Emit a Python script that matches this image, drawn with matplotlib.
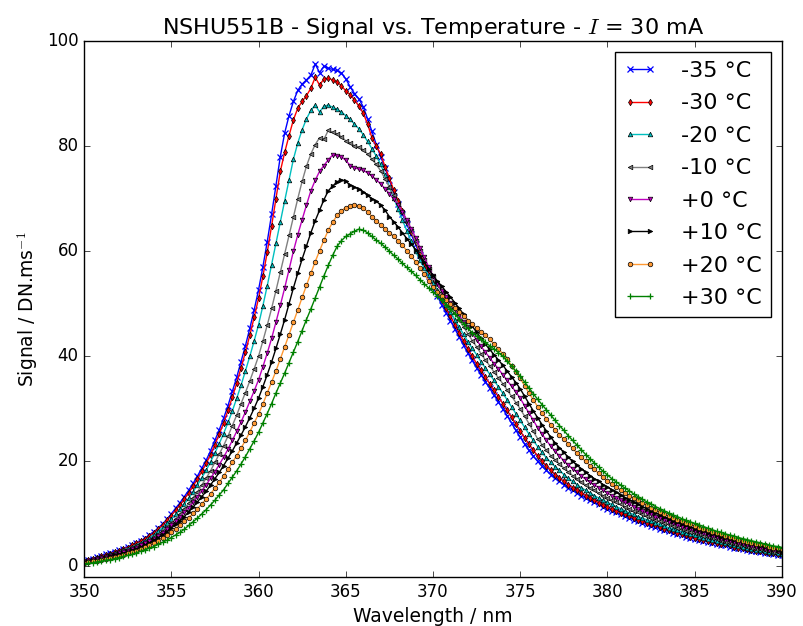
"""
NSHU551B: espectro de emision a I = 30 mA para distintas temperaturas.
Genera out.png.
"""

import numpy as np
import matplotlib
matplotlib.use("Agg")
import matplotlib.pyplot as plt

# rejilla de muestreo del espectrometro (nm)
wavelength = np.arange(350.0, 390.01, 0.25)

labels = ["-35 °C", "-30 °C", "-20 °C", "-10 °C", "+0 °C", "+10 °C", "+20 °C", "+30 °C"]

# senal DN/ms, una fila de 4 valores por nm (x.00, x.25, x.50, x.75), ultimo valor = 390 nm
sig_m35 = [
    1.1, 1.3, 1.5, 1.8,  2.0, 2.3, 2.5, 2.8,  3.1, 3.4, 3.7, 4.1,  4.5, 4.9, 5.4, 6.0,
    6.6, 7.3, 8.1, 9.0,  10.0, 11.1, 12.1, 13.3,  14.5, 15.8, 17.2, 18.7,  20.2, 22.0, 24.0, 26.0,
    28.2, 30.6, 33.3, 36.0,  39.0, 42.0, 45.3, 48.8,  52.6, 57.0, 61.8, 67.0,  72.5, 78.0, 82.5, 85.8,
    88.5, 90.6, 91.8, 92.6,  93.5, 95.6, 94.0, 95.2,  94.8, 94.6, 94.4, 93.9,  92.8, 91.3, 90.0, 89.0,
    87.5, 85.2, 82.8, 80.3,  78.0, 75.8, 73.5, 71.2,  69.0, 67.0, 65.1, 63.2,  61.3, 59.3, 57.2, 55.2,
    53.2, 51.5, 49.8, 48.3,  46.8, 45.2, 43.7, 42.1,  40.6, 39.2, 37.8, 36.5,  35.2, 33.9, 32.6, 31.3,
    30.0, 28.7, 27.3, 25.9,  24.6, 23.3, 22.1, 21.0,  20.0, 19.1, 18.3, 17.5,  16.8, 16.2, 15.6, 15.0,
    14.5, 14.0, 13.5, 13.0,  12.6, 12.2, 11.8, 11.4,  11.0, 10.6, 10.3, 9.9,  9.6, 9.3, 8.9, 8.6,
    8.3, 8.0, 7.7, 7.5,  7.2, 6.9, 6.7, 6.4,  6.2, 6.0, 5.7, 5.5,  5.3, 5.1, 4.9, 4.7,
    4.5, 4.3, 4.1, 4.0,  3.8, 3.6, 3.5, 3.3,  3.2, 3.0, 2.9, 2.7,  2.6, 2.5, 2.3, 2.2,
    2.1,
]
sig_m30 = [
    1.0, 1.2, 1.4, 1.7,  1.9, 2.2, 2.4, 2.7,  3.0, 3.3, 3.6, 4.0,  4.4, 4.8, 5.3, 5.8,
    6.4, 7.1, 7.9, 8.8,  9.7, 10.7, 11.7, 12.8,  14.0, 15.3, 16.6, 18.1,  19.6, 21.3, 23.2, 25.2,
    27.3, 29.7, 32.2, 34.9,  37.8, 40.8, 44.0, 47.4,  51.0, 55.2, 59.8, 64.8,  70.0, 75.2, 78.8, 82.0,
    85.0, 87.2, 88.5, 89.6,  91.0, 93.1, 91.6, 92.8,  92.9, 92.6, 92.2, 91.5,  90.5, 89.8, 88.8, 87.6,
    86.3, 84.2, 81.6, 80.0,  78.5, 76.1, 73.9, 71.6,  69.6, 67.6, 65.6, 63.7,  61.8, 59.7, 57.8, 55.9,
    54.0, 52.3, 50.7, 49.1,  47.6, 46.0, 44.5, 42.9,  41.4, 40.0, 38.6, 37.3,  36.0, 34.8, 33.5, 32.3,
    31.0, 29.7, 28.4, 27.1,  25.8, 24.5, 23.3, 22.1,  21.0, 20.0, 19.1, 18.3,  17.5, 16.8, 16.2, 15.6,
    15.0, 14.5, 14.0, 13.5,  13.0, 12.6, 12.1, 11.7,  11.3, 10.9, 10.6, 10.2,  9.9, 9.6, 9.2, 8.9,
    8.6, 8.3, 8.0, 7.8,  7.5, 7.2, 6.9, 6.7,  6.4, 6.2, 5.9, 5.7,  5.5, 5.3, 5.1, 4.9,
    4.7, 4.5, 4.3, 4.2,  4.0, 3.8, 3.6, 3.5,  3.3, 3.2, 3.0, 2.9,  2.8, 2.6, 2.5, 2.4,
    2.3,
]
sig_m20 = [
    0.9, 1.1, 1.3, 1.6,  1.8, 2.0, 2.3, 2.5,  2.8, 3.1, 3.4, 3.7,  4.1, 4.5, 4.9, 5.4,
    6.0, 6.7, 7.4, 8.2,  9.0, 9.9, 10.9, 11.9,  13.0, 14.2, 15.5, 16.9,  18.3, 19.9, 21.6, 23.4,
    25.3, 27.4, 29.6, 32.0,  34.5, 37.2, 40.0, 42.9,  46.0, 49.6, 53.4, 57.4,  61.5, 65.6, 69.6, 73.6,
    77.5, 80.6, 83.1, 85.2,  86.8, 87.8, 86.5, 87.6,  87.8, 87.4, 87.0, 86.5,  85.8, 85.1, 84.2, 83.3,
    82.2, 80.9, 79.5, 78.1,  76.5, 74.5, 72.3, 70.1,  68.0, 65.9, 63.9, 61.9,  60.0, 58.3, 56.8, 55.4,
    54.0, 52.6, 51.2, 49.8,  48.5, 47.0, 45.6, 44.2,  42.8, 41.5, 40.3, 39.0,  37.8, 36.6, 35.4, 34.2,
    33.0, 31.7, 30.4, 29.1,  27.8, 26.5, 25.2, 24.0,  22.8, 21.7, 20.7, 19.8,  19.0, 18.3, 17.5, 16.8,
    16.2, 15.6, 15.0, 14.5,  14.0, 13.5, 13.0, 12.6,  12.2, 11.8, 11.4, 11.0,  10.6, 10.2, 9.9, 9.5,
    9.2, 8.9, 8.6, 8.3,  8.0, 7.7, 7.4, 7.2,  6.9, 6.6, 6.4, 6.1,  5.9, 5.7, 5.4, 5.2,
    5.0, 4.8, 4.6, 4.4,  4.2, 4.0, 3.9, 3.7,  3.5, 3.4, 3.2, 3.1,  2.9, 2.8, 2.7, 2.5,
    2.4,
]
sig_m10 = [
    0.9, 1.1, 1.3, 1.5,  1.7, 1.9, 2.1, 2.4,  2.6, 2.9, 3.2, 3.5,  3.9, 4.2, 4.6, 5.1,
    5.6, 6.2, 6.8, 7.5,  8.3, 9.1, 10.0, 11.0,  12.0, 13.1, 14.2, 15.5,  16.8, 18.2, 19.8, 21.4,
    23.0, 24.8, 26.8, 28.8,  31.0, 33.1, 35.3, 37.6,  40.0, 42.9, 45.9, 49.1,  52.5, 56.0, 59.5, 63.0,
    66.5, 70.0, 73.3, 76.2,  78.5, 80.3, 81.6, 81.3,  83.0, 82.6, 82.3, 81.8,  81.0, 80.5, 80.1, 79.8,
    79.3, 78.5, 77.5, 76.5,  75.3, 73.8, 72.2, 70.6,  69.0, 67.3, 65.5, 63.8,  62.0, 60.1, 58.3, 56.6,
    55.0, 53.6, 52.2, 50.8,  49.5, 48.2, 46.9, 45.6,  44.3, 43.0, 41.8, 40.5,  39.3, 38.2, 37.0, 35.9,
    34.8, 33.6, 32.4, 31.2,  30.0, 28.6, 27.2, 25.7,  24.3, 23.2, 22.1, 21.1,  20.3, 19.5, 18.7, 18.0,
    17.3, 16.7, 16.1, 15.5,  15.0, 14.5, 14.0, 13.5,  13.1, 12.6, 12.2, 11.8,  11.4, 11.0, 10.6, 10.3,
    9.9, 9.6, 9.2, 8.9,  8.6, 8.3, 8.0, 7.7,  7.4, 7.1, 6.8, 6.6,  6.3, 6.1, 5.8, 5.6,
    5.4, 5.2, 4.9, 4.7,  4.5, 4.3, 4.1, 4.0,  3.8, 3.6, 3.4, 3.3,  3.1, 3.0, 2.8, 2.7,
    2.6,
]
sig_p00 = [
    0.8, 1.0, 1.2, 1.4,  1.6, 1.8, 2.0, 2.2,  2.5, 2.7, 3.0, 3.3,  3.6, 4.0, 4.4, 4.8,
    5.3, 5.8, 6.4, 7.1,  7.8, 8.6, 9.4, 10.3,  11.2, 12.2, 13.3, 14.4,  15.5, 16.8, 18.0, 19.4,
    20.8, 22.3, 24.0, 25.7,  27.5, 29.4, 31.4, 33.4,  35.5, 38.0, 40.6, 43.4,  46.5, 49.7, 53.0, 56.5,
    60.0, 63.1, 66.0, 68.8,  71.5, 73.5, 75.2, 76.3,  77.4, 78.3, 78.2, 78.0,  77.3, 76.3, 75.9, 75.6,
    75.4, 74.9, 74.3, 73.6,  72.8, 71.9, 70.9, 69.9,  68.8, 67.4, 65.9, 64.3,  62.6, 60.7, 58.8, 57.0,
    55.3, 53.9, 52.5, 51.3,  50.2, 49.0, 47.8, 46.6,  45.5, 44.3, 43.1, 41.9,  40.8, 39.7, 38.6, 37.6,
    36.5, 35.4, 34.3, 33.2,  32.0, 30.6, 29.2, 27.8,  26.4, 25.2, 24.0, 22.9,  21.9, 21.0, 20.1, 19.3,
    18.6, 17.9, 17.2, 16.6,  16.0, 15.5, 15.0, 14.5,  14.0, 13.5, 13.1, 12.6,  12.2, 11.8, 11.4, 11.0,
    10.6, 10.2, 9.9, 9.5,  9.2, 8.9, 8.5, 8.2,  7.9, 7.6, 7.3, 7.1,  6.8, 6.5, 6.3, 6.0,
    5.8, 5.6, 5.3, 5.1,  4.9, 4.7, 4.5, 4.3,  4.1, 3.9, 3.7, 3.6,  3.4, 3.2, 3.1, 2.9,
    2.8,
]
sig_p10 = [
    0.8, 0.9, 1.1, 1.3,  1.5, 1.7, 1.9, 2.1,  2.3, 2.5, 2.8, 3.1,  3.4, 3.7, 4.1, 4.5,
    5.0, 5.5, 6.0, 6.6,  7.3, 8.0, 8.7, 9.5,  10.4, 11.3, 12.3, 13.3,  14.3, 15.5, 16.7, 17.9,
    19.2, 20.6, 22.0, 23.5,  25.0, 26.6, 28.3, 30.1,  32.0, 34.2, 36.5, 38.9,  41.5, 44.2, 47.0, 50.0,
    53.0, 55.8, 58.5, 61.0,  63.5, 65.8, 67.8, 69.8,  71.5, 72.4, 73.2, 73.6,  73.3, 72.6, 72.2, 71.8,
    71.3, 70.6, 70.0, 69.5,  68.8, 67.8, 66.6, 65.6,  64.6, 63.5, 62.4, 61.4,  60.3, 59.1, 57.9, 56.6,
    55.4, 54.3, 53.3, 52.3,  51.3, 50.2, 49.1, 48.0,  46.8, 45.7, 44.6, 43.4,  42.3, 41.3, 40.3, 39.3,
    38.3, 37.2, 36.1, 35.0,  33.8, 32.4, 31.0, 29.6,  28.3, 27.0, 25.8, 24.6,  23.5, 22.6, 21.7, 20.8,
    20.0, 19.3, 18.6, 17.9,  17.3, 16.7, 16.2, 15.6,  15.1, 14.6, 14.1, 13.6,  13.1, 12.7, 12.2, 11.8,
    11.4, 11.0, 10.6, 10.2,  9.8, 9.4, 9.1, 8.7,  8.4, 8.1, 7.8, 7.5,  7.2, 6.9, 6.7, 6.4,
    6.2, 5.9, 5.7, 5.4,  5.2, 5.0, 4.8, 4.6,  4.4, 4.2, 4.0, 3.9,  3.7, 3.5, 3.3, 3.2,
    3.0,
]
sig_p20 = [
    0.7, 0.8, 1.0, 1.1,  1.3, 1.5, 1.7, 1.8,  2.0, 2.2, 2.5, 2.7,  3.0, 3.3, 3.7, 4.1,
    4.5, 4.9, 5.4, 6.0,  6.6, 7.2, 7.9, 8.6,  9.3, 10.1, 11.0, 11.9,  12.8, 13.8, 14.9, 16.0,
    17.2, 18.5, 19.8, 21.1,  22.5, 24.0, 25.6, 27.3,  29.0, 30.9, 33.0, 35.1,  37.2, 39.5, 41.8, 44.1,
    46.5, 48.8, 51.2, 53.5,  55.8, 58.0, 60.1, 62.1,  64.0, 65.5, 66.8, 67.7,  68.3, 68.6, 68.8, 68.6,
    68.2, 67.5, 66.6, 65.8,  65.0, 64.3, 63.5, 62.8,  62.0, 61.1, 60.1, 59.1,  58.0, 56.8, 55.6, 54.4,
    53.2, 52.3, 51.5, 50.7,  50.0, 49.2, 48.4, 47.6,  46.8, 46.1, 45.4, 44.7,  44.0, 43.2, 42.3, 41.4,
    40.5, 39.4, 38.2, 37.0,  35.8, 34.4, 33.0, 31.7,  30.4, 29.2, 28.1, 27.0,  26.0, 25.1, 24.2, 23.4,
    22.5, 21.6, 20.8, 20.0,  19.2, 18.5, 17.7, 17.0,  16.3, 15.7, 15.1, 14.6,  14.0, 13.5, 13.0, 12.6,
    12.1, 11.7, 11.2, 10.8,  10.4, 10.0, 9.6, 9.3,  8.9, 8.6, 8.3, 8.0,  7.7, 7.4, 7.1, 6.9,
    6.6, 6.3, 6.1, 5.8,  5.6, 5.4, 5.1, 4.9,  4.7, 4.5, 4.3, 4.2,  4.0, 3.8, 3.6, 3.5,
    3.3,
]
sig_p30 = [
    0.5, 0.6, 0.7, 0.9,  1.0, 1.2, 1.3, 1.5,  1.7, 1.9, 2.1, 2.3,  2.6, 2.9, 3.2, 3.5,
    3.8, 4.2, 4.6, 5.0,  5.5, 6.0, 6.5, 7.1,  7.8, 8.5, 9.2, 10.0,  10.8, 11.7, 12.6, 13.6,
    14.6, 15.8, 17.0, 18.2,  19.5, 20.9, 22.4, 23.9,  25.5, 27.3, 29.1, 31.0,  33.0, 34.9, 36.8, 38.8,
    40.8, 42.8, 44.9, 47.0,  49.0, 51.1, 53.2, 55.3,  57.3, 59.2, 60.9, 62.0,  62.8, 63.3, 63.8, 64.2,
    64.0, 63.5, 62.8, 62.1,  61.5, 60.8, 60.0, 59.2,  58.5, 57.7, 56.9, 56.2,  55.4, 54.6, 53.8, 53.0,
    52.3, 51.5, 50.7, 49.8,  49.0, 48.1, 47.1, 46.2,  45.3, 44.5, 43.8, 43.3,  42.7, 42.0, 41.4, 40.7,
    40.0, 39.1, 38.1, 37.2,  36.2, 35.1, 34.0, 32.9,  31.8, 30.8, 29.8, 28.8,  27.8, 26.8, 25.9, 24.9,
    24.0, 23.1, 22.2, 21.3,  20.5, 19.7, 18.9, 18.1,  17.4, 16.7, 16.1, 15.5,  14.9, 14.4, 13.8, 13.3,
    12.8, 12.3, 11.9, 11.4,  11.0, 10.6, 10.2, 9.8,  9.5, 9.1, 8.8, 8.5,  8.2, 7.9, 7.6, 7.3,
    7.0, 6.7, 6.5, 6.2,  6.0, 5.8, 5.5, 5.3,  5.1, 4.9, 4.7, 4.5,  4.3, 4.1, 3.9, 3.8,
    3.6,
]

SERIES  = [sig_m35, sig_m30, sig_m20, sig_m10, sig_p00, sig_p10, sig_p20, sig_p30]
COLORS  = ["b", "r", "c", "0.5", "m", "k", "#ff9933", "g"]
MARKERS = ["x", "d", "^", "<", "v", ">", "o", "+"]


def plot_espectros(out_path: str) -> None:
    plt.style.use("classic")
    plt.rcParams["figure.facecolor"] = "white"
    plt.rcParams["savefig.facecolor"] = "white"

    fig = plt.figure(figsize=(8.04, 6.26), dpi=100)
    ax = fig.add_axes([0.1045, 0.0783, 0.8681, 0.8562])

    for sig, lab, col, mk in zip(SERIES, labels, COLORS, MARKERS):
        abierto = mk in ("x", "+")
        ax.plot(wavelength, sig, color=col, marker=mk,
                markersize=4 if abierto else 3.3,
                markeredgewidth=0.9 if abierto else 0.5,
                markeredgecolor=col if abierto else "k",
                linewidth=1.0, label=lab)

    ax.set_xlim(350, 390)
    ax.set_ylim(-2, 100)
    ax.set_xticks(np.arange(350, 391, 5))
    ax.set_yticks(np.arange(0, 101, 20))
    ax.set_xlabel("Wavelength / nm", fontsize=13.5)
    ax.set_ylabel("Signal / DN.ms$^{-1}$", fontsize=13.5)
    ax.set_title("NSHU551B - Signal vs. Temperature - $I$ = 30 mA", fontsize=16)
    ax.legend(loc="upper right", numpoints=2, fontsize=16,
              handlelength=1.5, handletextpad=1.1, labelspacing=0.56)

    fig.savefig(out_path, dpi=100)
    plt.close(fig)


if __name__ == "__main__":
    for s in SERIES:
        assert len(s) == len(wavelength)
    plot_espectros("out.png")
